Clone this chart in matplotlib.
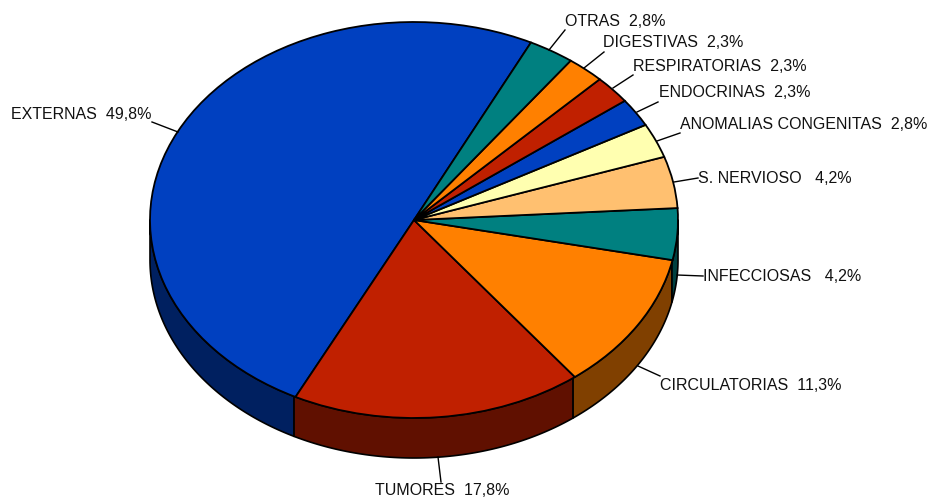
import numpy as np
import matplotlib
matplotlib.use('Agg')
import matplotlib.pyplot as plt

plt.rcParams['font.family'] = ['Liberation Sans', 'DejaVu Sans']

# counterclockwise from the top, starting with EXTERNAS
names = ['EXTERNAS  49,8%', 'TUMORES  17,8%', 'CIRCULATORIAS  11,3%', 'INFECCIOSAS   4,2%',
         'S. NERVIOSO   4,2%', 'ANOMALIAS CONGENITAS  2,8%', 'ENDOCRINAS  2,3%',
         'RESPIRATORIAS  2,3%', 'DIGESTIVAS  2,3%', 'OTRAS  2,8%']
values = [49.8, 17.8, 11.3, 4.2, 4.2, 2.8, 2.3, 2.3, 2.3, 2.8]
top_colors = ['#0040C0', '#C02000', '#FF8000', '#008080', '#FFC070',
              '#FFFFB0', '#0040C0', '#C02000', '#FF8000', '#008080']
side_colors = ['#002060', '#601000', '#804000', '#004040', '#806038',
               '#808058', '#002060', '#601000', '#804000', '#004040']

# label anchor and leader line, in pixels of the picture
label_pos = [(11, 114.5), (375, 490.5), (660, 385.5), (703, 276.5), (698, 178.5),
             (680, 124.5), (659, 92.5), (633, 66.5), (603, 42.5), (565, 21)]
leaders = [((152, 122), (178, 132)), ((441, 482), (438, 457)), ((660, 376), (638, 366)),
           ((703, 276), (677, 275)), ((698, 178), (674, 182)), ((680, 133), (657, 141)),
           ((658, 102), (637, 112)), ((633, 75), (613, 88)), ((604, 52), (584, 68)),
           ((565, 30), (549, 50))]

W, H = 929, 498
cx, cy, rx, ry, depth = 414, 220, 264, 198, 40
start = 63.7

fig = plt.figure(figsize=(W / 100, H / 100), dpi=100)
ax = fig.add_axes([0, 0, 1, 1])

# side wall of the disc, only the front half shows
edges = start + np.cumsum([0] + values) * 3.6
d = depth / ry
for a0, a1, c in zip(edges[:-1], edges[1:], side_colors):
    lo, hi = max(a0, 180), min(a1, 360)
    if lo >= hi:
        continue
    t = np.radians(np.linspace(lo, hi, 80))
    xs = np.r_[np.cos(t), np.cos(t[::-1])]
    ys = np.r_[np.sin(t), np.sin(t[::-1]) - d]
    ax.fill(xs, ys, facecolor=c, edgecolor='k', linewidth=1.2, joinstyle='round')

ax.pie(values, colors=top_colors, startangle=start, counterclock=True,
       wedgeprops=dict(edgecolor='k', linewidth=1.3))
ax.set_aspect('auto')
ax.set_xlim(-cx / rx, (W - cx) / rx)
ax.set_ylim((cy - H) / ry, cy / ry)

# overlay in pixel coordinates for the labels
ov = fig.add_axes([0, 0, 1, 1])
ov.set_xlim(0, W)
ov.set_ylim(H, 0)
ov.axis('off')
for name, (x, y), (p0, p1) in zip(names, label_pos, leaders):
    ov.plot([p0[0], p1[0]], [p0[1], p1[1]], color='k', linewidth=1)
    ov.text(x, y, name, fontsize=11.55, color='#111111', ha='left', va='center')

fig.savefig('out.png', dpi=100)
